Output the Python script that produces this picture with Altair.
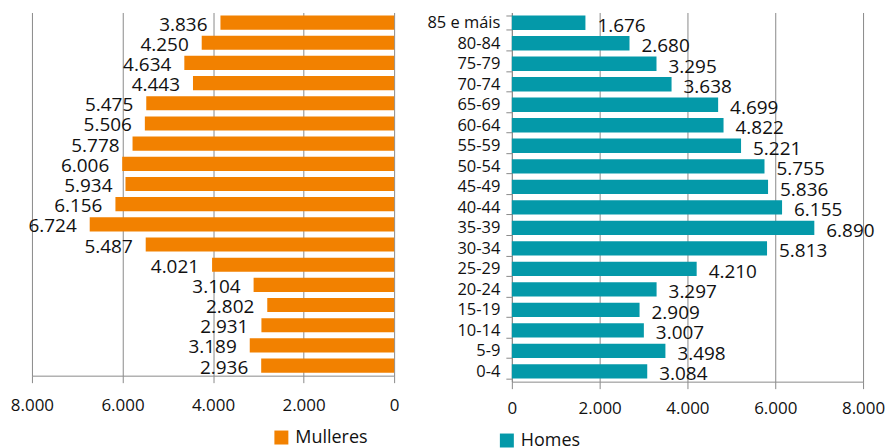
import altair as alt
import pandas as pd

ages = ["85 e máis", "80-84", "75-79", "70-74", "65-69", "60-64", "55-59", "50-54",
        "45-49", "40-44", "35-39", "30-34", "25-29", "20-24", "15-19", "10-14", "5-9", "0-4"]
mulleres = [3836, 4250, 4634, 4443, 5475, 5506, 5778, 6006, 5934, 6156, 6724, 5487,
            4021, 3104, 2802, 2931, 3189, 2936]
homes = [1676, 2680, 3295, 3638, 4699, 4822, 5221, 5755, 5836, 6155, 6890, 5813,
         4210, 3297, 2909, 3007, 3498, 3084]
x_ticks = [0, 2000, 4000, 6000, 8000]
series = ["Mulleres", "Homes"]

ORANGE = "#F28100"
TEAL = "#0499A9"
GRID = "#8a8a8a"
FONT = "Open Sans"
TXT = "#111111"


def fmt(v):
    return f"{v:,}".replace(",", ".")


df_m = pd.DataFrame({"age": ages, "value": mulleres, "sex": series[0]})
df_m["label"] = [fmt(v) for v in mulleres]
df_h = pd.DataFrame({"age": ages, "value": homes, "sex": series[1]})
df_h["label"] = [fmt(v) for v in homes]

label_expr = "replace(format(datum.value, ','), ',', '.')"
band = alt.Scale(paddingInner=0.3, paddingOuter=0.15)


def x_axis(pad):
    return alt.Axis(values=x_ticks, labelExpr=label_expr, title=None, grid=True,
                    gridColor=GRID, domainColor=GRID, tickColor=GRID, tickSize=7,
                    labelPadding=pad, labelFlush=False, labelFontSize=17,
                    labelFont=FONT, labelColor=TXT)


def legend(x, y):
    return alt.Legend(orient="none", legendX=x, legendY=y, title=None,
                      symbolType="square", symbolSize=196, symbolStrokeWidth=0,
                      labelFontSize=18, labelFont=FONT, labelColor=TXT, padding=0,
                      labelOffset=5)


# Left panel: Mulleres
y_m = alt.Y("age:N", sort=ages, axis=None, scale=band)
bars_m = alt.Chart(df_m).mark_bar().encode(
    x=alt.X("value:Q", scale=alt.Scale(domain=[0, 8000], reverse=True, nice=False),
            axis=x_axis(15)),
    y=y_m,
    color=alt.Color("sex:N", scale=alt.Scale(domain=[series[0]], range=[ORANGE]),
                    legend=legend(241, 417)),
)
text_m = alt.Chart(df_m).mark_text(align="right", baseline="middle", dx=-13, dy=2,
                                   fontSize=19, font=FONT, color=TXT).encode(
    x="value:Q", y=y_m, text="label:N")
left = (bars_m + text_m).properties(width=363, height=364)

# Right panel: Homes
y_h = alt.Y("age:N", sort=ages, title=None, scale=band,
            axis=alt.Axis(tickBand="extent", domainColor=GRID, tickColor=GRID,
                          tickSize=6, labelPadding=6, labelFontSize=16.5,
                          labelFont=FONT, labelColor=TXT, grid=False))
bars_h = alt.Chart(df_h).mark_bar().encode(
    x=alt.X("value:Q", scale=alt.Scale(domain=[0, 8000], nice=False), axis=x_axis(12)),
    y=y_h,
    color=alt.Color("sex:N", scale=alt.Scale(domain=[series[1]], range=[TEAL]),
                    legend=legend(-14, 420)),
)
text_h = alt.Chart(df_h).mark_text(align="left", baseline="middle", dx=12, dy=3,
                                   fontSize=19, font=FONT, color=TXT).encode(
    x="value:Q", y=y_h, text="label:N")
right = (bars_h + text_h).properties(width=352, height=370)

chart = alt.hconcat(left, right, spacing=27).resolve_scale(color="independent").configure_view(
    stroke=None
).properties(padding={"left": 2, "top": -4, "right": 0, "bottom": 0})

chart.save("out.html", embed_options={"renderer": "svg", "actions": False})
